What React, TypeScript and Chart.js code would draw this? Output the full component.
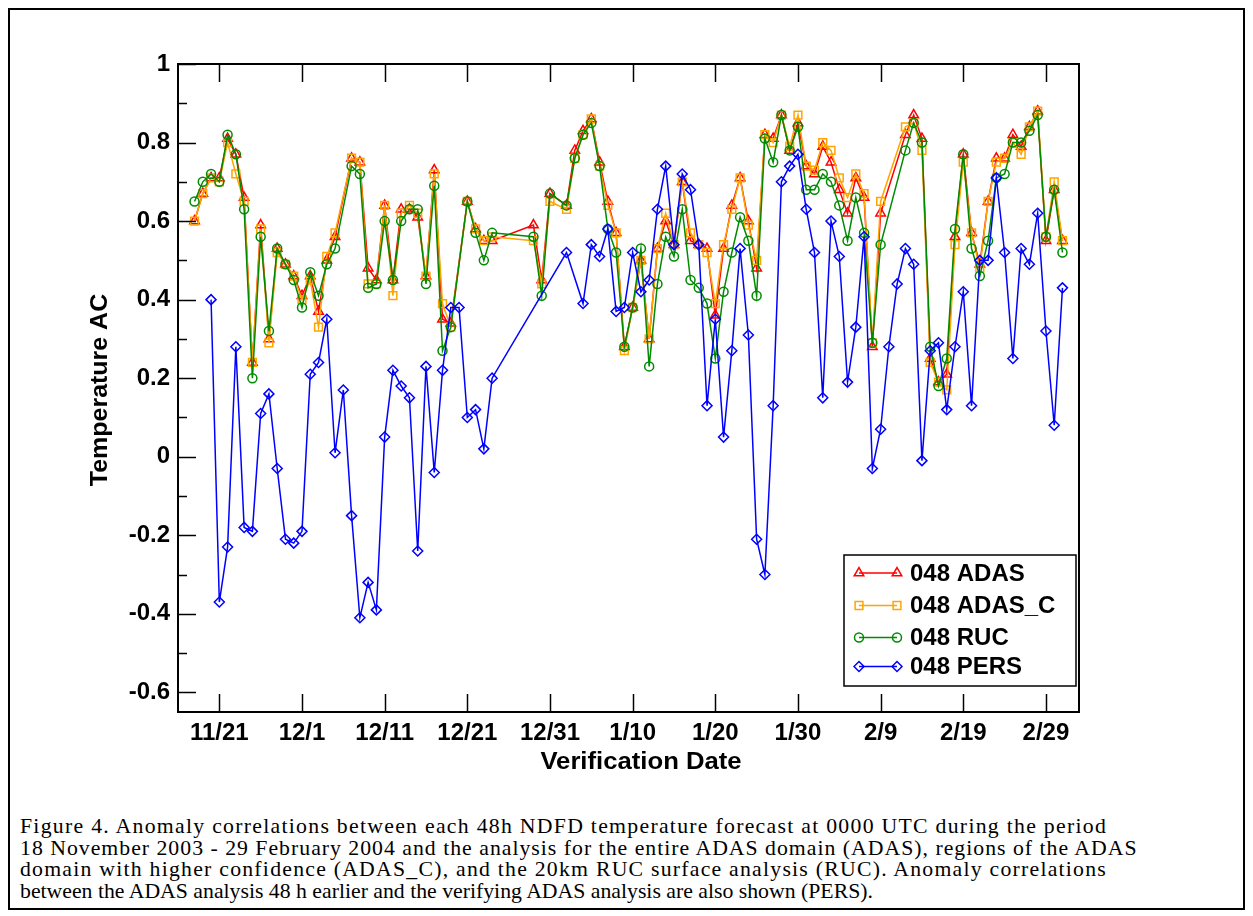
import React, { useEffect, useMemo, useRef } from 'react';
import { Chart, registerables } from 'chart.js';
import { drawPoint } from 'chart.js/helpers';

Chart.register(...registerables);

// Day offsets from 21 November 2003 (day 0 = 11/21)
const days = [
  -3, -2, -1, 0, 1, 2, 3, 4, 5, 6, 7, 8, 9, 10, 11, 12, 13, 14, 15, 16, 17, 18, 19, 20,
  21, 22, 23, 24, 25, 26, 27, 28, 29, 30, 31, 32, 33, 34, 35, 36, 37, 38, 39, 40, 41, 42,
  43, 44, 45, 46, 47, 48, 49, 50, 51, 52, 53, 54, 55, 56, 57, 58, 59, 60, 61, 62, 63, 64,
  65, 66, 67, 68, 69, 70, 71, 72, 73, 74, 75, 76, 77, 78, 79, 80, 81, 82, 83, 84, 85, 86,
  87, 88, 89, 90, 91, 92, 93, 94, 95, 96, 97, 98, 99, 100, 101, 102,
];

const adas = [
  0.60, 0.67, 0.71, 0.71, 0.81, 0.77, 0.66, 0.24, 0.59, 0.30, 0.53, 0.49, 0.46, 0.41, 0.46, 0.37, 0.50, 0.56, null, 0.76, 0.75, 0.48, 0.45, 0.64,
  0.45, 0.63, 0.63, 0.61, 0.46, 0.73, 0.35, 0.34, null, 0.65, 0.58, 0.55, 0.55, null, null, null, null, 0.59, 0.45, 0.67, null, 0.64,
  0.78, 0.83, 0.86, 0.75, 0.65, 0.57, 0.28, 0.38, 0.50, 0.30, 0.53, 0.60, 0.54, 0.70, 0.55, 0.54, 0.53, 0.36, 0.53, 0.64, 0.71, 0.60,
  0.48, 0.82, 0.81, 0.87, 0.78, 0.85, 0.74, 0.72, 0.79, 0.75, 0.68, 0.62, 0.71, 0.66, 0.28, 0.62, null, null, 0.82, 0.87, 0.81, 0.25,
  0.19, 0.21, 0.56, 0.77, 0.57, 0.49, 0.65, 0.76, 0.76, 0.82, 0.79, 0.84, 0.88, 0.55, 0.68, 0.55,
];

const adasC = [
  0.60, 0.67, 0.71, 0.70, 0.80, 0.72, 0.65, 0.24, 0.58, 0.29, 0.52, 0.49, 0.46, 0.40, 0.45, 0.33, 0.51, 0.57, null, 0.76, 0.75, 0.44, 0.44, 0.64,
  0.41, 0.62, 0.64, 0.62, 0.46, 0.72, 0.39, 0.33, null, 0.65, 0.58, 0.55, 0.56, null, null, null, null, 0.55, 0.44, 0.65, null, 0.63,
  0.76, 0.82, 0.86, 0.74, 0.64, 0.57, 0.27, 0.38, 0.50, 0.30, 0.53, 0.62, 0.54, 0.70, 0.57, 0.54, 0.52, 0.39, 0.54, 0.63, 0.71, 0.59,
  0.50, 0.82, 0.80, 0.87, 0.79, 0.87, 0.74, 0.73, 0.80, 0.78, 0.71, 0.66, 0.72, 0.67, 0.29, 0.65, null, null, 0.84, 0.85, 0.78, 0.24,
  0.19, 0.17, 0.54, 0.75, 0.57, 0.48, 0.65, 0.75, 0.76, 0.80, 0.77, 0.84, 0.88, 0.56, 0.70, 0.55,
];

const ruc = [
  0.65, 0.70, 0.72, 0.70, 0.82, 0.77, 0.63, 0.20, 0.56, 0.32, 0.53, 0.49, 0.45, 0.38, 0.47, 0.41, 0.49, 0.53, null, 0.74, 0.72, 0.43, 0.44, 0.60,
  0.45, 0.60, 0.63, 0.63, 0.44, 0.69, 0.27, 0.33, null, 0.65, 0.57, 0.50, 0.57, null, null, null, null, 0.56, 0.41, 0.67, null, 0.64,
  0.76, 0.82, 0.85, 0.74, 0.58, 0.52, 0.28, 0.38, 0.53, 0.23, 0.44, 0.56, 0.51, 0.63, 0.45, 0.43, 0.39, 0.25, 0.42, 0.52, 0.61, 0.55,
  0.41, 0.81, 0.75, 0.87, 0.78, 0.84, 0.68, 0.68, 0.72, 0.70, 0.64, 0.55, 0.66, 0.57, 0.29, 0.54, null, null, 0.78, 0.85, 0.80, 0.28,
  0.18, 0.25, 0.58, 0.77, 0.53, 0.46, 0.55, 0.71, 0.72, 0.80, 0.80, 0.83, 0.87, 0.56, 0.68, 0.52,
];

const pers = [
  null, null, 0.40, -0.37, -0.23, 0.28, -0.18, -0.19, 0.11, 0.16, -0.03, -0.21, -0.22, -0.19, 0.21, 0.24, 0.35, 0.01, 0.17, -0.15, -0.41, -0.32, -0.39, 0.05,
  0.22, 0.18, 0.15, -0.24, 0.23, -0.04, 0.22, 0.38, 0.38, 0.10, 0.12, 0.02, 0.20, null, null, null, null, null, null, null, null, 0.52,
  null, 0.39, 0.54, 0.51, 0.58, 0.37, 0.38, 0.52, 0.42, 0.45, 0.63, 0.74, 0.54, 0.72, 0.68, 0.54, 0.13, 0.35, 0.05, 0.27, 0.53, 0.31,
  -0.21, -0.30, 0.13, 0.70, 0.74, 0.77, 0.63, 0.52, 0.15, 0.60, 0.51, 0.19, 0.33, 0.56, -0.03, 0.07, 0.28, 0.44, 0.53, 0.49, -0.01, 0.27,
  0.29, 0.12, 0.28, 0.42, 0.13, 0.50, 0.50, 0.71, 0.52, 0.25, 0.53, 0.49, 0.62, 0.32, 0.08, 0.43,
];

const seriesLabels = ['048 ADAS', '048 ADAS_C', '048 RUC', '048 PERS'];

const xTickDays = [0, 10, 20, 30, 40, 50, 60, 70, 80, 90, 100];
const xTickLabels = ['11/21', '12/1', '12/11', '12/21', '12/31', '1/10', '1/20', '1/30', '2/9', '2/19', '2/29'];

const yTickValues = [1, 0.8, 0.6, 0.4, 0.2, 0, -0.2, -0.4, -0.6];
const yTickLabels = ['1', '0.8', '0.6', '0.4', '0.2', '0', '-0.2', '-0.4', '-0.6'];
const yMinorValues = [0.9, 0.7, 0.5, 0.3, 0.1, -0.1, -0.3, -0.5];

const captionLines = [
  'Figure 4. Anomaly correlations between each 48h NDFD temperature forecast at 0000 UTC during the period',
  '18 November 2003 - 29 February 2004 and the analysis for the entire ADAS domain (ADAS), regions of the ADAS',
  'domain with higher confidence (ADAS_C), and the 20km RUC surface analysis (RUC). Anomaly correlations',
  'between the ADAS analysis 48 h earlier and the verifying ADAS analysis are also shown (PERS).',
];
const captionWidths = [1087, 1119, 1087, 0];

const FONT = '"Liberation Sans", Arial, sans-serif';
const SERIF = '"Liberation Serif", "Times New Roman", serif';
const CAPTION_SIZE = 21.75;

const CANVAS_W = 1233;
const CANVAS_H = 800;

function toPoints(vals: (number | null)[]) {
  return days.map((d, i) => ({ x: d, y: vals[i] }));
}

const overlayPlugin = {
  id: 'overlay',
  afterDraw(chart: any) {
    const { ctx, chartArea: a, scales } = chart;
    const xs = scales.x;
    const ys = scales.y;
    ctx.save();
    ctx.strokeStyle = '#000';
    ctx.lineWidth = 2;
    ctx.strokeRect(a.left, a.top, a.right - a.left, a.bottom - a.top);

    ctx.lineWidth = 1.5;
    const seg = (x1: number, y1: number, x2: number, y2: number) => {
      ctx.beginPath();
      ctx.moveTo(x1, y1);
      ctx.lineTo(x2, y2);
      ctx.stroke();
    };
    yTickValues.forEach((v) => {
      const py = Math.round(ys.getPixelForValue(v)) + 0.5;
      seg(a.left, py, a.left + 18, py);
    });
    yMinorValues.forEach((v) => {
      const py = Math.round(ys.getPixelForValue(v)) + 0.5;
      seg(a.left, py, a.left + 9, py);
    });
    xTickDays.forEach((d) => {
      const px = Math.round(xs.getPixelForValue(d)) + 0.5;
      seg(px, a.bottom, px, a.bottom - 18);
      seg(px, a.top, px, a.top + 18);
    });

    // axis titles
    ctx.fillStyle = '#000';
    ctx.font = `bold 24px ${FONT}`;
    ctx.textAlign = 'center';
    ctx.textBaseline = 'middle';
    ctx.save();
    ctx.translate(631, 752);
    ctx.scale(1.07, 1);
    ctx.fillText('Verification Date', 0, 0);
    ctx.restore();
    ctx.save();
    ctx.translate(90, 380);
    ctx.rotate(-Math.PI / 2);
    ctx.scale(1.04, 1);
    ctx.fillText('Temperature AC', 0, 0);
    ctx.restore();

    // legend
    const box = { l: 834, t: 545, r: 1066, b: 676 };
    ctx.fillStyle = '#fff';
    ctx.fillRect(box.l, box.t, box.r - box.l, box.b - box.t);
    ctx.strokeStyle = '#000';
    ctx.lineWidth = 1.5;
    ctx.strokeRect(box.l, box.t, box.r - box.l, box.b - box.t);
    const rows = [563, 595.5, 627.5, 656.5];
    chart.data.datasets.forEach((ds: any, i: number) => {
      const y = rows[i];
      const x1 = 849;
      const x2 = 887;
      ctx.strokeStyle = ds.borderColor;
      ctx.lineWidth = ds.borderWidth;
      seg(x1, y, x2, y);
      ctx.fillStyle = 'rgba(0,0,0,0)';
      ctx.lineWidth = ds.pointBorderWidth;
      const opts = { pointStyle: ds.pointStyle, radius: ds.pointRadius, rotation: 0, borderWidth: ds.pointBorderWidth };
      drawPoint(ctx, opts, x1, y);
      drawPoint(ctx, opts, x2, y);
      ctx.fillStyle = '#000';
      ctx.font = `bold 24px ${FONT}`;
      ctx.textAlign = 'left';
      ctx.textBaseline = 'middle';
      ctx.fillText(ds.label, 900, y + 1);
    });
    ctx.restore();
  },
};

function ChartView() {
  const ref = useRef<HTMLCanvasElement | null>(null);
  useEffect(() => {
    if (!ref.current) return;
    const mk = (label: string, vals: (number | null)[], color: string, style: string, r: number, order: number) => ({
      label,
      data: toPoints(vals),
      borderColor: color,
      backgroundColor: 'rgba(0,0,0,0)',
      pointBorderColor: color,
      pointBackgroundColor: 'rgba(0,0,0,0)',
      pointStyle: style,
      pointRadius: r,
      pointBorderWidth: 1.5,
      borderWidth: 1.5,
      spanGaps: true,
      tension: 0,
      order,
    });
    const chart = new Chart(ref.current, {
      type: 'line',
      data: {
        datasets: [
          mk(seriesLabels[0], adas, '#ff0000', 'triangle', 5.5, 3),
          mk(seriesLabels[1], adasC, '#ffa500', 'rect', 5.5, 2),
          mk(seriesLabels[2], ruc, '#008a00', 'circle', 4.5, 1),
          mk(seriesLabels[3], pers, '#0000ff', 'rectRot', 5, 0),
        ] as any,
      },
      options: {
        responsive: false,
        animation: false,
        devicePixelRatio: 1,
        layout: { padding: { left: 0, top: 54, right: 164, bottom: 0 } },
        plugins: { legend: { display: false }, tooltip: { enabled: false } },
        events: [],
        scales: {
          x: {
            type: 'linear',
            min: -5,
            max: 104,
            grid: { display: false, drawTicks: false },
            border: { display: false },
            afterBuildTicks: (s: any) => {
              s.ticks = xTickDays.map((v) => ({ value: v }));
            },
            afterFit: (s: any) => {
              s.height = 98;
            },
            ticks: {
              autoSkip: false,
              maxRotation: 0,
              padding: 7,
              color: '#000',
              font: { family: FONT, size: 24, weight: 'bold' },
              callback: (v: any) => {
                const i = xTickDays.indexOf(Number(v));
                return i >= 0 ? xTickLabels[i] : '';
              },
            },
          },
          y: {
            type: 'linear',
            min: -0.65,
            max: 1,
            grid: { display: false, drawTicks: false },
            border: { display: false },
            afterBuildTicks: (s: any) => {
              s.ticks = yTickValues.map((v) => ({ value: v }));
            },
            afterFit: (s: any) => {
              s.width = 168;
            },
            ticks: {
              autoSkip: false,
              padding: 8,
              color: '#000',
              font: { family: FONT, size: 24, weight: 'bold' },
              callback: (v: any) => {
                const i = yTickValues.findIndex((t) => Math.abs(t - Number(v)) < 1e-9);
                return i >= 0 ? yTickLabels[i] : '';
              },
            },
          },
        },
      } as any,
      plugins: [overlayPlugin],
    });
    return () => chart.destroy();
  }, []);
  return (
    <canvas
      ref={ref}
      width={CANVAS_W}
      height={CANVAS_H}
      style={{ position: 'absolute', left: 0, top: 0, width: CANVAS_W, height: CANVAS_H }}
    />
  );
}

function Caption() {
  const spacings = useMemo(() => {
    const c = document.createElement('canvas').getContext('2d');
    return captionLines.map((t, i) => {
      if (!c || captionWidths[i] <= 0) return 0;
      c.font = `${CAPTION_SIZE}px ${SERIF}`;
      const w = c.measureText(t).width;
      return (captionWidths[i] - w) / (t.length - 1);
    });
  }, []);
  return (
    <div
      style={{
        position: 'absolute',
        left: 10,
        top: 806,
        fontFamily: SERIF,
        fontSize: CAPTION_SIZE,
        lineHeight: '21.7px',
        color: '#000',
        whiteSpace: 'nowrap',
      }}
    >
      {captionLines.map((t, i) => (
        <div key={i} style={{ letterSpacing: `${spacings[i]}px` }}>
          {t}
        </div>
      ))}
    </div>
  );
}

export default function App() {
  return (
    <div
      style={{
        position: 'relative',
        width: 1237,
        height: 902,
        boxSizing: 'border-box',
        border: '2px solid #000',
        background: '#fff',
      }}
    >
      <ChartView />
      <Caption />
    </div>
  );
}
